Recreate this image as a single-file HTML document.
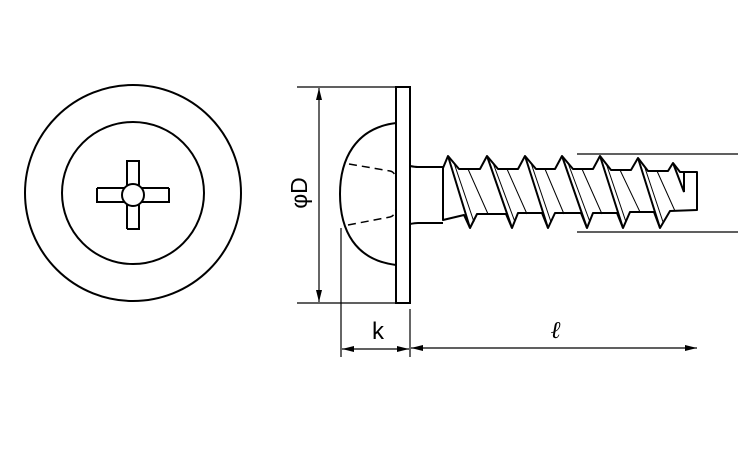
<!DOCTYPE html>
<html><head><meta charset="utf-8"><style>html,body{margin:0;padding:0;background:#fff}</style></head>
<body>
<svg width="750" height="450" viewBox="0 0 750 450" xmlns="http://www.w3.org/2000/svg">
<defs>
<marker id="a" viewBox="0 0 12 6" refX="12" refY="3" markerWidth="12" markerHeight="6" orient="auto-start-reverse" markerUnits="userSpaceOnUse"><path d="M0,0 L12,3 L0,6 Z" fill="#000"/></marker>
</defs>
<g fill="none" stroke="#000" stroke-width="2">
<circle cx="133" cy="193" r="108"/>
<circle cx="133" cy="193" r="71"/>
<path d="M127,185 V161 H139 V185 M97,188 H125 M97,188 V202 H125 M169,188 H141 M169,188 V202 H141 M127,229 H139 V205 M127,229 V205" />
<circle cx="133" cy="195" r="11"/>
<rect x="396" y="87" width="14" height="216"/>
<path d="M396,123 C355,128 340,160 340,194 C340,230 355,260 396,265"/>
<path d="M349,164 L390,171 Q396,172 396,182 M348,225 L390,217 Q395,216 396,208" stroke-dasharray="8,5" stroke-width="1.5"/>
<path d="M410,166 Q415,167 418,167 H443 M410,224 Q415,223 418,223 H443"/>
<path d="M443,168 L448,156 L459,169 L480,169 L487,156 L498,169 L518,169 L525,156 L536,169 L555,169 L562,156 L573,169 L593,169 L600,156 L611,170 L631,170 L638,158 L648,171 L668,171 L673,163 L680,172 L697,172 L697,210 L670,211 L660,228 L654,212 L630,212 L623,228 L617,213 L593,213 L587,228 L581,213 L555,213 L548,228 L542,213 L518,213 L512,228 L506,214 L477,214 L470,228 L464,215 L443,220 Z" stroke-linejoin="round"/>
<path d="M448,156 L470,228 M487,156 L512,228 M525,156 L548,228 M562,156 L587,228 M600,156 L623,228 M638,158 L660,228 M673,163 L684,192 L684,172" stroke-width="2"/>
<path d="M454,163 L474,222 M493,163 L515,222 M531,163 L551,222 M568,163 L590,222 M606,163 L626,222 M644,165 L663,222 M468,169 L488,214 M507,169 L527,214 M545,169 L564,214 M582,169 L602,214 M620,170 L640,212 M657,171 L675,211" stroke-width="1"/>
</g>
<g stroke="#000" stroke-width="1.2" fill="none">
<path d="M297,87 H397 M297,303 H397"/>
<line x1="319" y1="88" x2="319" y2="302" marker-start="url(#a)" marker-end="url(#a)"/>
<path d="M577,154 H738 M577,232 H738"/>
<path d="M341,228 V357 M410,309 V357"/>
<line x1="342" y1="349" x2="409" y2="349" marker-start="url(#a)" marker-end="url(#a)"/>
<line x1="411" y1="348" x2="697" y2="348" marker-start="url(#a)" marker-end="url(#a)"/>
</g>
<text x="0" y="0" transform="translate(307,193) rotate(-90)" font-family="Liberation Sans, sans-serif" font-size="23" text-anchor="middle">φD</text>
<text x="378" y="339" font-family="Liberation Sans, sans-serif" font-size="24" text-anchor="middle">k</text>
<text x="556" y="338" font-family="Liberation Serif, serif" font-style="italic" font-weight="bold" font-size="24" text-anchor="middle">ℓ</text>
</svg>
</body></html>
